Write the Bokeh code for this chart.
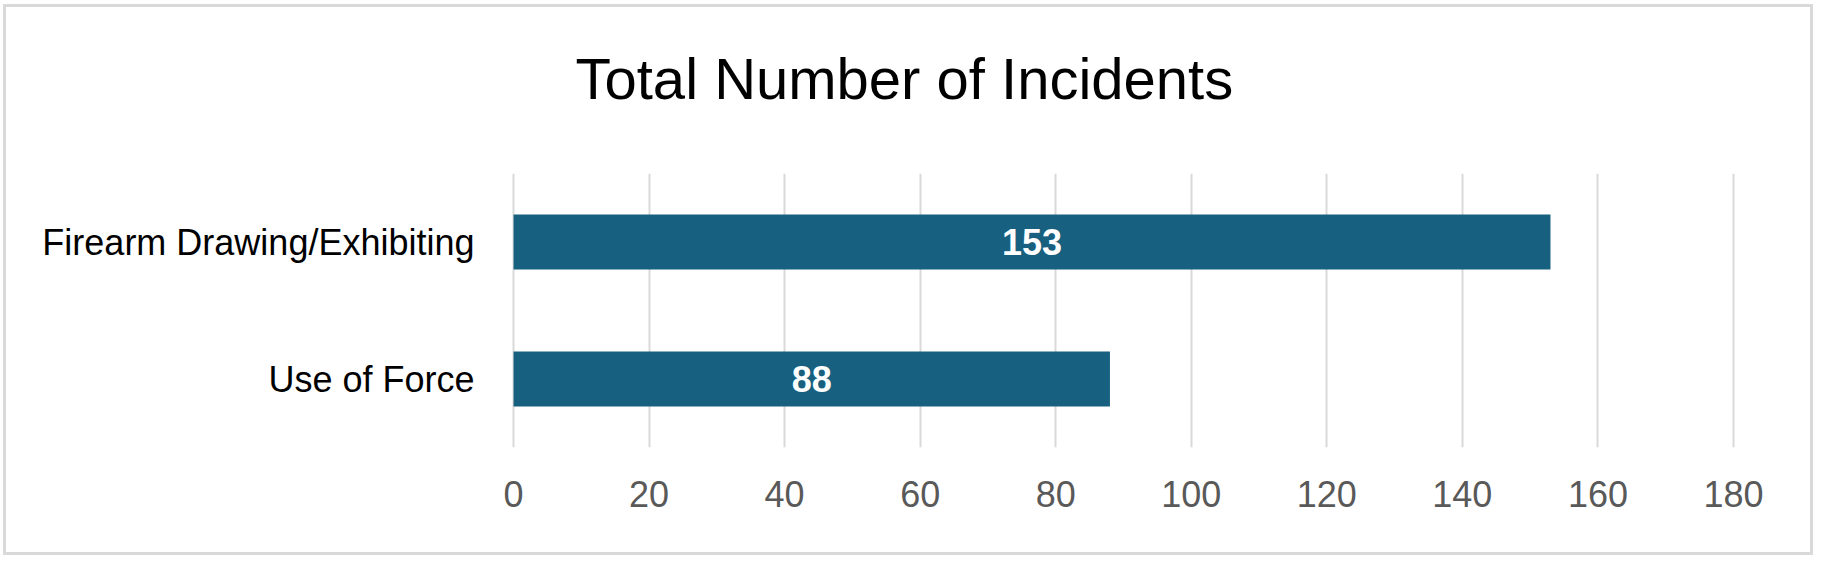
from bokeh.plotting import figure
from bokeh.models import Range1d, FixedTicker, Title, ColumnDataSource, FactorRange
from bokeh.core.properties import value
from bokeh.embed import file_html
from bokeh.resources import INLINE

# ---- data ----
categories = ["Firearm Drawing/Exhibiting", "Use of Force"]
counts = [153, 88]
x_ticks = [0, 20, 40, 60, 80, 100, 120, 140, 160, 180]
title_text = "Total Number of Incidents"

BAR_COLOR = "#17607F"
GRID_COLOR = "#D9D9D9"

factors = list(reversed(categories))  # bottom to top

p = figure(
    width=1810, height=551,
    y_range=FactorRange(factors=factors, range_padding=0),
    x_range=Range1d(-0.3, 180.3),
    output_backend="svg", toolbar_location=None,
    min_border_left=505, min_border_right=81,
    min_border_top=166, min_border_bottom=111,
)
p.styles = {"border": "3px solid #D9D9D9", "margin": "4px 0 0 3px"}
p.outline_line_color = None
p.background_fill_color = "white"
p.border_fill_color = "white"

src = ColumnDataSource(dict(cat=categories, val=counts,
                            mid=[v / 2 for v in counts],
                            lab=[str(v) for v in counts]))

p.hbar(y="cat", left=0, right="val", height=0.4, source=src,
       fill_color=BAR_COLOR, line_color=None)

p.text(x="mid", y="cat", text="lab", source=src,
       text_align="center", text_baseline="middle",
       text_font=value("Liberation Sans"), text_font_style="bold",
       text_font_size="36px", text_color="white")

# grid
p.xgrid.ticker = FixedTicker(ticks=x_ticks)
p.xgrid.grid_line_color = GRID_COLOR
p.xgrid.grid_line_width = 2
p.ygrid.grid_line_color = None

# x axis
p.xaxis.ticker = FixedTicker(ticks=x_ticks)
p.xaxis.axis_line_color = None
p.xaxis.major_tick_line_color = None
p.xaxis.minor_tick_line_color = None
p.xaxis.major_tick_out = 0
p.xaxis.major_tick_in = 0
p.xaxis.major_label_standoff = 33
p.xaxis.major_label_text_font = "Liberation Sans"
p.xaxis.major_label_text_font_size = "36px"
p.xaxis.major_label_text_color = "#595959"

# y axis
p.yaxis.axis_line_color = None
p.yaxis.major_tick_line_color = None
p.yaxis.minor_tick_line_color = None
p.yaxis.major_tick_out = 0
p.yaxis.major_tick_in = 0
p.yaxis.major_label_standoff = 37
p.yaxis.major_label_text_font = "Liberation Sans"
p.yaxis.major_label_text_font_size = "36px"
p.yaxis.major_label_text_color = "black"

# title (spacer closest to the frame, then the real title)
spacer = Title(text=" ", text_font_size="10px", standoff=50)
p.add_layout(spacer, "above")
title = Title(text=title_text, align="left", offset=64, standoff=0,
              vertical_align="bottom",
              text_font="Liberation Sans", text_font_size="58px",
              text_font_style="normal", text_color="black")
p.add_layout(title, "above")

open("out.html", "w").write(file_html(p, INLINE))
